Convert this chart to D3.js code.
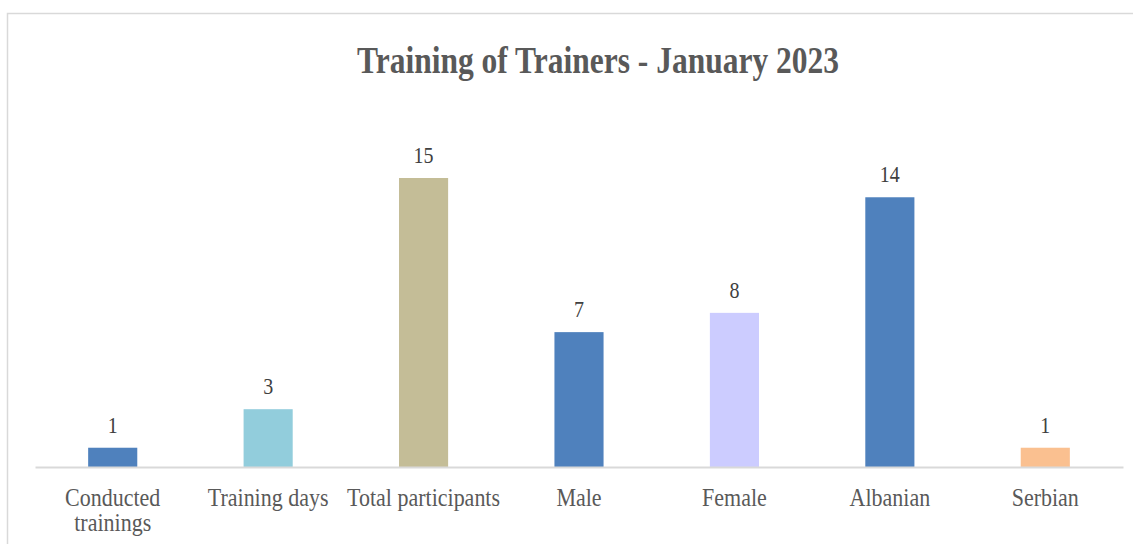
<!DOCTYPE html>
<html lang="en">
<head>
    <meta charset="utf-8">
    <title>Training of Trainers - January 2023</title>
    <script src="https://cdn.jsdelivr.net/npm/d3@7"></script>
    <style>
        body { margin: 0; background: #fff; }
        text { font-family: "Liberation Serif", "Times New Roman", serif; }
    </style>
</head>
<body>
<script>
    var categories = ["Conducted trainings", "Training days", "Total participants", "Male", "Female", "Albanian", "Serbian"];
    var values = [1, 3, 15, 7, 8, 14, 1];
    var barColors = ["#4f81bd", "#92cddc", "#c4bd97", "#4f81bd", "#ccccff", "#4f81bd", "#fac090"];
    var title = "Training of Trainers - January 2023";

    var width = 1133, height = 544;
    var axisY = 467, topY = 178;
    var stretch = 1.18; // text in the source looks vertically stretched

    var svg = d3.select("body").append("svg")
        .attr("width", width)
        .attr("height", height);

    // chart border
    svg.append("rect")
        .attr("x", 7.5).attr("y", 13.5)
        .attr("width", 1150).attr("height", 560)
        .attr("fill", "#fff")
        .attr("stroke", "#d9d9d9")
        .attr("stroke-width", 1.5);

    var x = d3.scaleBand().domain(categories).range([35, 1123]).paddingInner(0.684).paddingOuter(0.342);
    var y = d3.scaleLinear().domain([0, d3.max(values)]).range([axisY, topY]);

    svg.selectAll("rect.bar").data(values).enter().append("rect")
        .attr("class", "bar")
        .attr("x", function (d, i) { return x(categories[i]); })
        .attr("y", function (d) { return y(d); })
        .attr("width", x.bandwidth())
        .attr("height", function (d) { return axisY - y(d); })
        .attr("fill", function (d, i) { return barColors[i]; });

    // value labels
    svg.selectAll("text.val").data(values).enter().append("text")
        .attr("class", "val")
        .attr("transform", function (d, i) {
            return "translate(" + (x(categories[i]) + x.bandwidth() / 2) + "," + (y(d) - 15) + ") scale(1," + stretch + ")";
        })
        .attr("text-anchor", "middle")
        .attr("font-size", "20px")
        .attr("fill", "#404040")
        .text(function (d) { return d; });

    // x axis
    var xAxis = d3.axisBottom(x).tickSize(0);
    var gx = svg.append("g").attr("transform", "translate(0," + axisY + ")").call(xAxis);
    gx.select(".domain").attr("stroke", "#d9d9d9").attr("stroke-width", 2);
    gx.selectAll(".tick text").remove();

    gx.selectAll(".tick").each(function (d) {
        var words = d.split(" ");
        var probe = d3.select(this).append("text").attr("font-size", "22px");
        var line = [], lines = [];
        words.forEach(function (w) {
            line.push(w);
            probe.text(line.join(" "));
            if (probe.node().getComputedTextLength() > 170 && line.length > 1) {
                line.pop();
                lines.push(line.join(" "));
                line = [w];
            }
        });
        lines.push(line.join(" "));
        probe.remove();
        // one text element per line
        var tick = d3.select(this);
        lines.forEach(function (l, k) {
            tick.append("text")
                .attr("transform", "translate(0," + (39 + k * 25) + ") scale(1," + stretch + ")")
                .attr("text-anchor", "middle")
                .attr("font-size", "22px")
                .attr("fill", "#595959")
                .text(l);
        });
    });

    // title
    svg.append("text")
        .attr("transform", "translate(598,73) scale(1,1.2)")
        .attr("text-anchor", "middle")
        .attr("font-size", "31.5px")
        .attr("font-weight", "bold")
        .attr("fill", "#595959")
        .text(title);
</script>
</body>
</html>
